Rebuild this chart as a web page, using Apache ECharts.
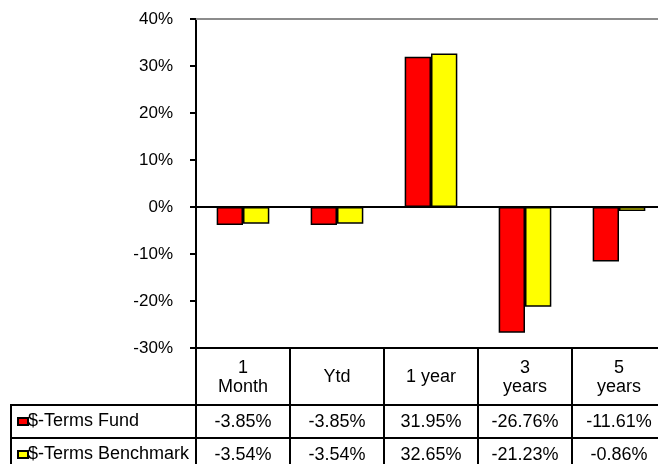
<!DOCTYPE html>
<html>
<head>
<meta charset="utf-8">
<script src="https://cdn.jsdelivr.net/npm/echarts@6/dist/echarts.min.js"></script>
<style>
  html, body { margin: 0; padding: 0; background: #fff; }
  #chart { width: 658px; height: 464px; }
</style>
</head>
<body>
<div id="chart"></div>
<script>
// Periods (table header) and series values in %
const periods = ['1\nMonth', 'Ytd', '1 year', '3\nyears', '5\nyears'];
const fundName = '$-Terms Fund';
const benchName = '$-Terms Benchmark';
const fundValues = [-3.85, -3.85, 31.95, -26.76, -11.61];
const benchValues = [-3.54, -3.54, 32.65, -21.23, -0.86];
const yTicks = { min: -30, max: 40, step: 10 };

const FONT = '18px "Liberation Sans", Arial, sans-serif';
// table rows: header, fund, benchmark (in table-axis units = px)
const ROW_EDGES = [0, 57, 90, 123];
const LABEL_LEFT = 11;

const chart = echarts.init(document.getElementById('chart'));

// draws one column of the data table (and the row-label cells for the first column)
function renderTable(params, api) {
  const i = api.value(0);
  const w = api.size([1, 0])[0];
  const cx = api.coord([i, 0])[0];
  const x0 = cx - w / 2;
  const yAt = v => api.coord([i, v])[1];
  const cellStyle = { fill: 'none', stroke: '#000', lineWidth: 2 };
  const children = [];

  for (let r = 0; r < 3; r++) {
    const ya = yAt(ROW_EDGES[r]);
    const yb = yAt(ROW_EDGES[r + 1]);
    children.push({
      type: 'rect',
      shape: { x: x0, y: ya, width: w, height: yb - ya },
      style: cellStyle
    });
    if (r > 0 && i === 0) {
      children.push({
        type: 'rect',
        shape: { x: LABEL_LEFT, y: ya, width: x0 - LABEL_LEFT, height: yb - ya },
        style: cellStyle
      });
    }
  }

  const texts = [
    periods[i],
    fundValues[i].toFixed(2) + '%',
    benchValues[i].toFixed(2) + '%'
  ];
  texts.forEach((t, r) => {
    const ya = yAt(ROW_EDGES[r]);
    const yb = yAt(ROW_EDGES[r + 1]);
    children.push({
      type: 'text',
      style: {
        text: t,
        x: cx,
        y: (ya + yb) / 2 + 1,
        align: 'center',
        verticalAlign: 'middle',
        font: FONT,
        lineHeight: 19,
        fill: '#000'
      }
    });
  });

  return { type: 'group', children: children };
}

const option = {
  animation: false,
  backgroundColor: '#fff',
  textStyle: { fontFamily: '"Liberation Sans", Arial, sans-serif' },
  legend: {
    orient: 'vertical',
    left: 17,
    top: 405,
    height: 100,
    padding: 0,
    itemGap: 0,
    itemWidth: 10,
    itemHeight: 7,
    itemTextGap: 0,
    icon: 'rect',
    textStyle: { fontSize: 18, color: '#000', lineHeight: 33, padding: [0, 0, 0, -5] },
    data: [fundName, benchName]
  },
  grid: [
    { left: 196, top: 19, width: 470, height: 329, outerBoundsMode: 'none' },
    { left: 196, top: 348, width: 470, height: 123, outerBoundsMode: 'none' }
  ],
  xAxis: [
    {
      type: 'category',
      gridIndex: 0,
      data: periods,
      position: 'bottom',
      axisLine: { lineStyle: { color: '#000', width: 2 } },
      axisTick: { show: false },
      axisLabel: { show: false }
    },
    {
      type: 'category',
      gridIndex: 0,
      data: periods,
      position: 'top',
      axisLine: { lineStyle: { color: '#8c8c8c', width: 2 } },
      axisTick: { show: false },
      axisLabel: { show: false }
    },
    {
      type: 'category',
      gridIndex: 1,
      data: periods,
      show: false
    }
  ],
  yAxis: [
    {
      type: 'value',
      gridIndex: 0,
      min: yTicks.min,
      max: yTicks.max,
      interval: yTicks.step,
      axisLine: { show: true, lineStyle: { color: '#000', width: 2 } },
      axisTick: { show: true, length: 6, lineStyle: { color: '#000', width: 2 } },
      splitLine: { show: false },
      axisLabel: {
        margin: 23,
        color: '#000',
        fontSize: 17,
        formatter: v => v + '%'
      }
    },
    {
      type: 'value',
      gridIndex: 1,
      min: 0,
      max: ROW_EDGES[3],
      inverse: true,
      show: false
    }
  ],
  series: [
    {
      name: fundName,
      type: 'bar',
      xAxisIndex: 0,
      yAxisIndex: 0,
      data: fundValues,
      barGap: '0%',
      barCategoryGap: '44%',
      itemStyle: { color: '#ff0000', borderColor: '#000', borderWidth: 1.5 }
    },
    {
      name: benchName,
      type: 'bar',
      xAxisIndex: 0,
      yAxisIndex: 0,
      data: benchValues,
      barGap: '0%',
      barCategoryGap: '44%',
      itemStyle: { color: '#ffff00', borderColor: '#000', borderWidth: 1.5 }
    },
    {
      name: 'table',
      type: 'custom',
      xAxisIndex: 2,
      yAxisIndex: 1,
      clip: false,
      silent: true,
      renderItem: renderTable,
      data: periods.map((p, i) => [i, 0])
    }
  ]
};

chart.setOption(option);
</script>
</body>
</html>
